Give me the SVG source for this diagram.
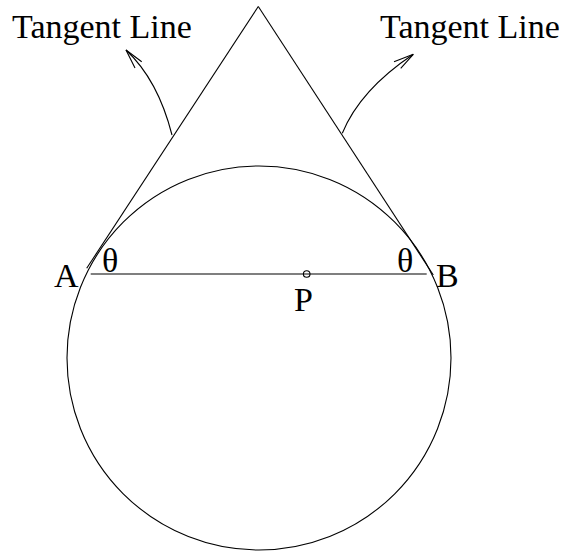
<svg xmlns="http://www.w3.org/2000/svg" width="568" height="552" viewBox="0 0 568 552">
<style>
.ln{fill:none;stroke:#000;stroke-width:1.1}
.t{font-family:"Liberation Serif","Times New Roman",serif;font-size:34px;fill:#000}
</style>
<rect width="568" height="552" fill="#fff"/>
<g id="circle"><circle class="ln" cx="259" cy="358" r="192"/></g>
<g id="tangents">
<path id="tangent-left" class="ln" d="M258.3,6.5 L86.7,268.3"/>
<path id="tangent-right" class="ln" d="M258.3,6.5 L433.3,275"/>
</g>
<g id="chord"><path class="ln" d="M90.7,274 L426.7,274"/></g>
<g id="P"><circle class="ln" cx="306.7" cy="274" r="3.3"/><text class="t" x="294" y="311">P</text></g>
<g id="A"><text class="t" x="54" y="286.7">A</text><text class="t" x="102" y="271.5">θ</text></g>
<g id="B"><text class="t" x="436" y="286.7">B</text><text class="t" x="397" y="271.5">θ</text></g>
<g id="connectors">
<path class="ln" d="M172,135 Q158,80 126,50"/>
<path class="ln" d="M141.7,61.7 L126,50 L135,68"/>
<path class="ln" d="M342.3,133.3 Q360,90 413.3,54.3"/>
<path class="ln" d="M394,61.7 L413.3,54.3 L400.7,68.3"/>
</g>
<g id="label-left"><text class="t" x="12" y="37.5">Tangent Line</text></g>
<g id="label-right"><text class="t" x="380" y="37.5">Tangent Line</text></g>
</svg>
